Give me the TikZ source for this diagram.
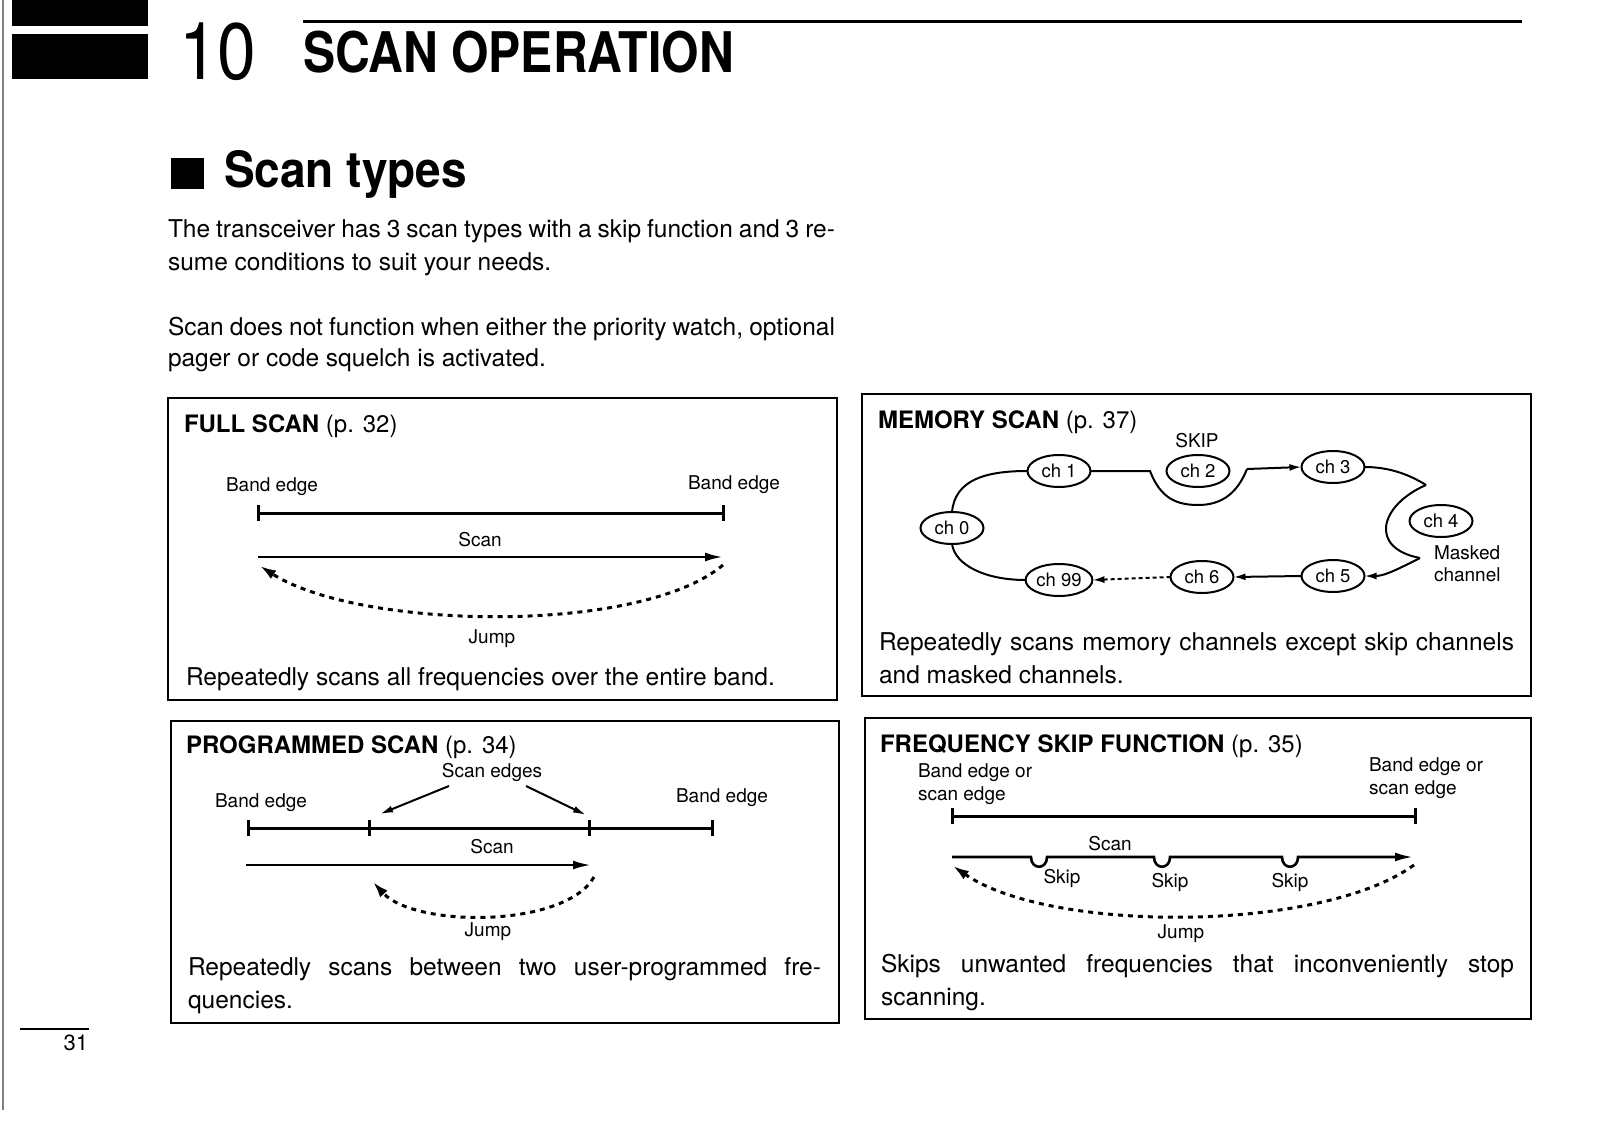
\documentclass[tikz,border=0pt]{standalone}
\usepackage{fontspec}
\setmainfont{TeX Gyre Heros}
\usetikzlibrary{arrows.meta,shapes.geometric}
\newcommand{\myfs}[1]{\fontsize{#1}{#1}\selectfont}
\begin{document}
\begin{tikzpicture}[x=1pt,y=-1pt,
  every node/.style={inner sep=0pt, outer sep=0pt},
  body/.style={anchor=base west, font=\myfs{24.5}},
  ttl/.style={anchor=base west, font=\myfs{24}},
  lbl/.style={font=\myfs{19}},
  panel/.style={draw, line width=1.8pt},
  band/.style={line width=3pt},
  tickline/.style={line width=3pt},
  scanarrow/.style={line width=2.6pt, -{Latex[length=18pt,width=9pt]}},
  jump/.style={line width=3pt, dash pattern=on 5pt off 5pt, -{Latex[length=16pt,width=10pt]}},
  chan/.style={draw, ellipse, line width=2pt, minimum width=63pt, minimum height=32pt, font=\myfs{18.5}, inner sep=1pt},
  link/.style={line width=2pt},
  linkarrow/.style={line width=2pt, -{Latex[length=12pt,width=7pt]}},
  pointer/.style={line width=2pt, -{Latex[length=13pt,width=7pt]}},
]
\useasboundingbox (0,0) rectangle (1600,1137);
\fill[white] (0,0) rectangle (1600,1137);

% header
\draw[gray, line width=1.2pt] (3,0) -- (3,1110);
\fill[black] (12,0) rectangle (148,26);
\fill[black] (12,34) rectangle (148,79);
\node[anchor=base west, font=\myfs{80}] (chapnum) at (179,80) {\scalebox{0.87}[1]{10}};
\draw[line width=3pt] (303,22) -- (1522,22);
\node[anchor=base west, font=\myfs{56}\bfseries] (chaptitle) at (303,73) {\scalebox{0.86}[1]{SCAN OPERATION}};

% section
\fill[black] (171,158) rectangle (204,189);
\node[anchor=base west, font=\myfs{50}\bfseries] (sec) at (224,187) {\scalebox{0.92}[1]{Scan types}};

\node[body] (p1a) at (168,237) {\makebox[667pt][s]{The transceiver has 3 scan types with a skip function and 3 re-}};
\node[body] (p1b) at (168,270) {sume conditions to suit your needs.};
\node[body] (p2a) at (168,335) {\makebox[667pt][s]{Scan does not function when either the priority watch, optional}};
\node[body] (p2b) at (168,366) {pager or code squelch is activated.};

% panels
\draw[panel] (168,398) rectangle (837,700);
\draw[panel] (862,394) rectangle (1531,696);
\draw[panel] (171,721) rectangle (839,1023);
\draw[panel] (865,718) rectangle (1531,1019);

% ---- FULL SCAN
\node[ttl] (t1) at (184,432) {\textbf{FULL SCAN} (p. 32)};
\node[lbl] (be1l) at (272,487) {Band edge};
\node[lbl] (be1r) at (734,485) {Band edge};
\coordinate (b1L) at (258,513);
\coordinate (b1R) at (723,513);
\draw[band] (b1L) -- (b1R);
\draw[tickline] (258,505) -- (258,521);
\draw[tickline] (723,505) -- (723,521);
\node[lbl] (s1) at (480,540) {Scan};
\coordinate (a1L) at (258,557);
\coordinate (a1R) at (723,557);
\draw[scanarrow] (a1L) -- (a1R);
\coordinate (j1s) at (723,565);
\coordinate (j1e) at (260,566);
\draw[jump] (j1s) .. controls (640,635) and (360,630) .. (j1e);
\node[lbl] (j1) at (492,639) {Jump};
\node[body] (d1) at (186,685) {Repeatedly scans all frequencies over the entire band.};

% ---- MEMORY SCAN
\node[ttl] (t2) at (878,428) {\textbf{MEMORY SCAN} (p. 37)};
\node[lbl] (skiplbl) at (1197,441) {SKIP};
\node[chan] (ch1) at (1059,471) {ch 1};
\node[chan] (ch2) at (1198,471) {ch 2};
\node[chan] (ch3) at (1333,467) {ch 3};
\node[chan] (ch0) at (952,528) {ch 0};
\node[chan] (ch4) at (1441,521) {ch 4};
\node[chan] (ch99) at (1059,580) {ch 99};
\node[chan] (ch6) at (1202,577) {ch 6};
\node[chan] (ch5) at (1333,576) {ch 5};
\coordinate (dipA) at (1150,471);
\coordinate (dipB) at (1247,469);
\coordinate (cuspC) at (1426,485);
\coordinate (cuspD) at (1420,558);
\draw[link] (ch0.north) .. controls (955,480) and (985,471) .. (ch1.west);
\draw[link] (ch1.east) -- (dipA) .. controls (1160,497) and (1175,505) .. (1198,505) .. controls (1221,505) and (1237,494) .. (dipB);
\draw[linkarrow] (dipB) -- (ch3.west);
\draw[link] (ch3.east) .. controls (1390,467) and (1410,475) .. (cuspC);
\draw[link] (cuspC) .. controls (1380,505) and (1368,548) .. (cuspD);
\draw[linkarrow] (cuspD) .. controls (1400,568) and (1385,576) .. (ch5.east);
\draw[linkarrow] (ch5.west) -- (ch6.east);
\draw[linkarrow, dash pattern=on 4pt off 3pt] (ch6.west) -- (ch99.east);
\draw[link] (ch99.west) .. controls (985,580) and (955,565) .. (ch0.south);
\node[lbl, anchor=west] (mk1) at (1434,553) {Masked};
\node[lbl, anchor=west] (mk2) at (1434,575) {channel};
\node[body] (d2a) at (879,650) {\makebox[635pt][s]{Repeatedly scans memory channels except skip channels}};
\node[body] (d2b) at (879,683) {and masked channels.};

% ---- PROGRAMMED SCAN
\node[ttl] (t3) at (186,753) {\textbf{PROGRAMMED SCAN} (p. 34)};
\node[lbl] (se) at (492,772) {Scan edges};
\node[lbl] (be3l) at (261,803) {Band edge};
\node[lbl] (be3r) at (722,798) {Band edge};
\draw[band] (248,828) -- (712,828);
\foreach \xx in {248,369,589,712} \draw[tickline] (\xx,820) -- (\xx,836);
\coordinate (pe1s) at (449,786);
\coordinate (pe1e) at (380,814);
\coordinate (pe2s) at (526,786);
\coordinate (pe2e) at (586,815);
\draw[pointer] (pe1s) -- (pe1e);
\draw[pointer] (pe2s) -- (pe2e);
\node[lbl] (s3) at (492,847) {Scan};
\coordinate (a3L) at (246,865);
\coordinate (a3R) at (591,865);
\draw[scanarrow] (a3L) -- (a3R);
\coordinate (j3s) at (594,877);
\coordinate (j3e) at (373,882);
\draw[jump] (j3s) .. controls (565,928) and (415,928) .. (j3e);
\node[lbl] (j3) at (488,932) {Jump};
\node[body] (d3a) at (188,975) {\makebox[633pt][s]{Repeatedly scans between two user-programmed fre-}};
\node[body] (d3b) at (188,1008) {quencies.};

% ---- FREQUENCY SKIP
\node[ttl] (t4) at (880,752) {\textbf{FREQUENCY SKIP FUNCTION} (p. 35)};
\node[lbl, anchor=west] (fbl1) at (918,773) {Band edge or};
\node[lbl, anchor=west] (fbl2) at (918,796) {scan edge};
\node[lbl, anchor=west] (fbr1) at (1369,767) {Band edge or};
\node[lbl, anchor=west] (fbr2) at (1369,790) {scan edge};
\draw[band] (952,816) -- (1415,816);
\draw[tickline] (952,808) -- (952,824);
\draw[tickline] (1415,808) -- (1415,824);
\node[lbl] (s4) at (1110,844) {Scan};
\draw[scanarrow] (952,857) -- (1031,857) .. controls (1031,870) and (1047,870) .. (1047,857)
  -- (1154,857) .. controls (1154,870) and (1170,870) .. (1170,857)
  -- (1282,857) .. controls (1282,870) and (1298,870) .. (1298,857) -- (1413,857);
\node[lbl] (sk1) at (1062,878) {Skip};
\node[lbl] (sk2) at (1170,882) {Skip};
\node[lbl] (sk3) at (1290,882) {Skip};
\coordinate (j4s) at (1414,865);
\coordinate (j4e) at (953,866);
\draw[jump] (j4s) .. controls (1320,933) and (1050,933) .. (j4e);
\node[lbl] (j4) at (1181,934) {Jump};
\node[body] (d4a) at (881,972) {\makebox[633pt][s]{Skips unwanted frequencies that inconveniently stop}};
\node[body] (d4b) at (881,1005) {scanning.};

% page number
\draw[line width=1.2pt] (20,1029) -- (89,1029);
\node[anchor=east, font=\myfs{22}] (pg) at (88,1043) {31};
\end{tikzpicture}
\end{document}
